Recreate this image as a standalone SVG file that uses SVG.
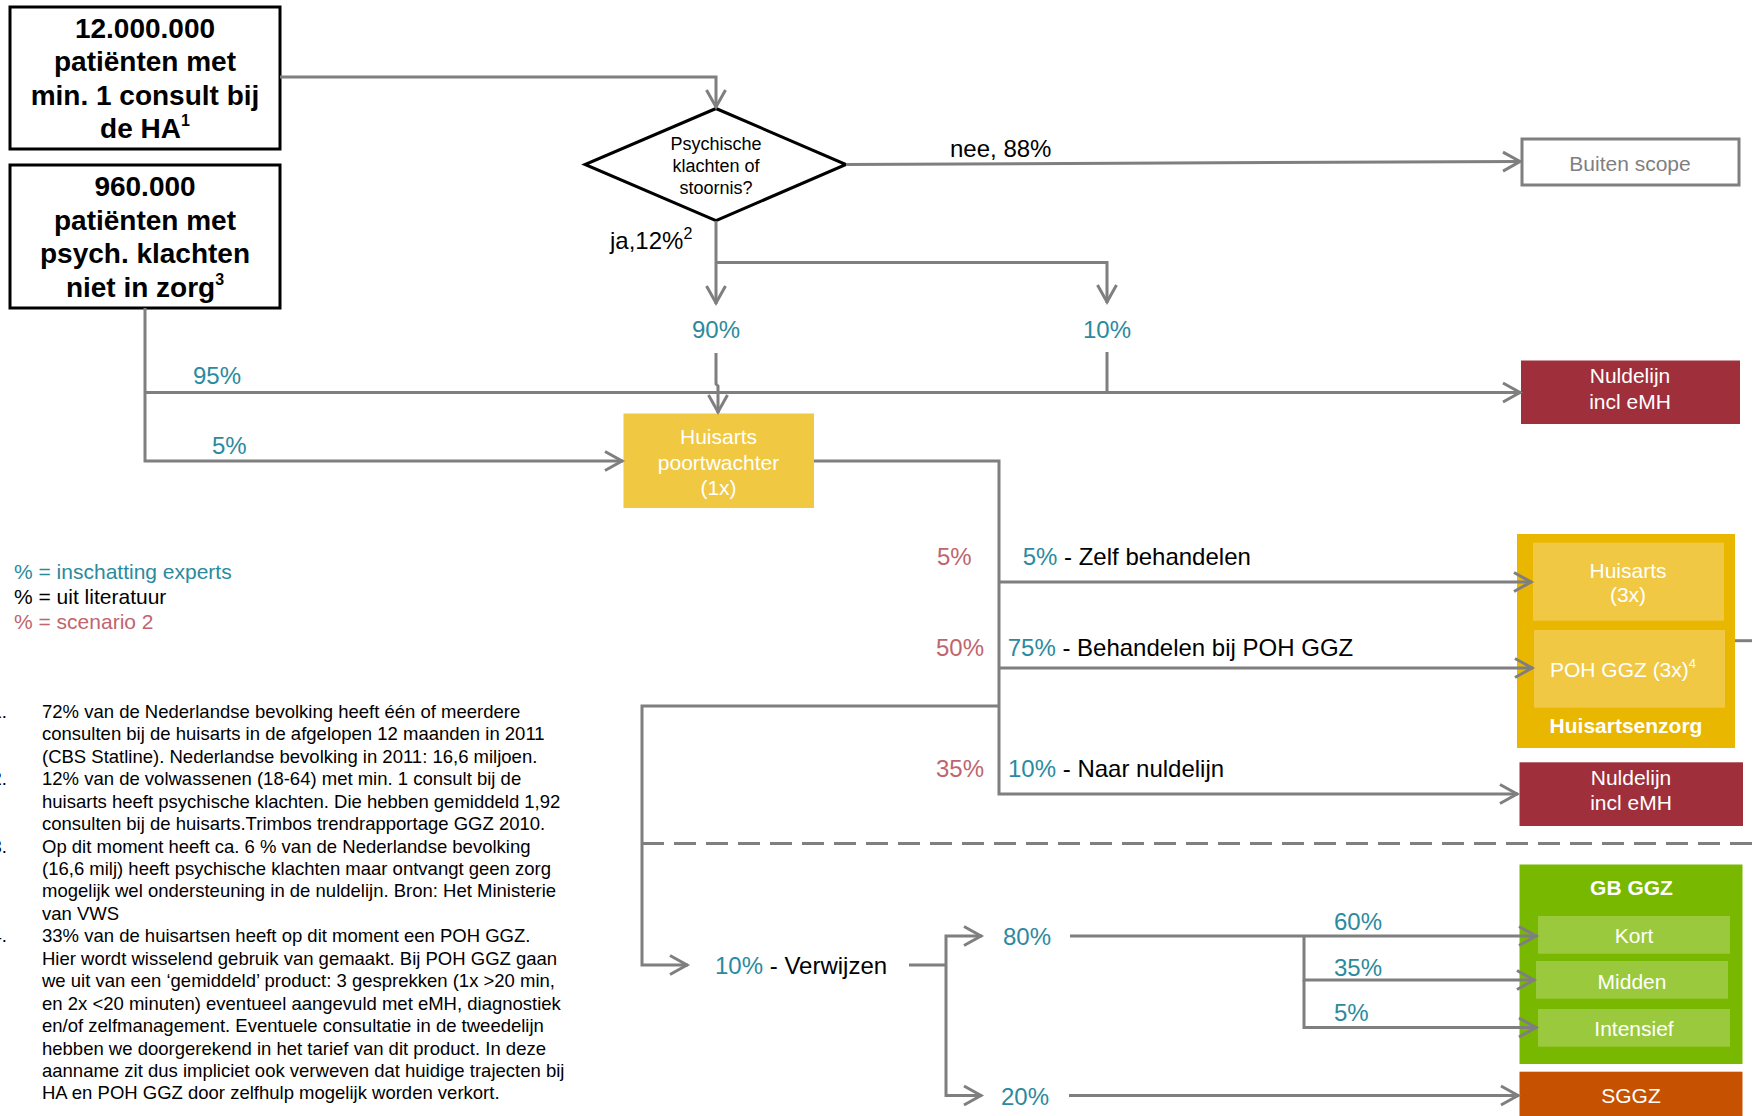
<svg xmlns="http://www.w3.org/2000/svg" width="1752" height="1116" viewBox="0 0 1752 1116">
<defs>
<marker id="arr" markerUnits="userSpaceOnUse" markerWidth="30" markerHeight="30" viewBox="-25 -15 30 30" refX="0" refY="0" orient="auto">
<path d="M-18,-9.5 L-1,0 L-18,9.5" fill="none" stroke="#7f7f7f" stroke-width="3"/>
</marker>
<style>
text{font-family:"Liberation Sans",Arial,sans-serif}
.ln{fill:none;stroke:#7f7f7f;stroke-width:3}
.ar{marker-end:url(#arr)}
.big{font-size:28px;font-weight:bold;fill:#000;text-anchor:middle}
.wt{fill:#fff;font-size:21px;text-anchor:middle}
.wb{fill:#fff;font-size:21px;font-weight:bold;text-anchor:middle}
.pct{font-size:24px}
.tl{fill:#2b8a9e}
.rd{fill:#c0656e}
.bk{fill:#000}
.fn{font-size:18.5px;fill:#000}
</style>
</defs>

<g id="box-patients">
<rect x="10" y="7" width="270" height="142" fill="#fff" stroke="#000" stroke-width="3"/>
<text class="big" x="145" y="38">12.000.000</text>
<text class="big" x="145" y="71">patiënten met</text>
<text class="big" x="145" y="104.5">min. 1 consult bij</text>
<text class="big" x="145" y="138">de HA<tspan font-size="16" dy="-12">1</tspan></text>
</g>

<g id="box-notincare">
<rect x="10" y="165" width="270" height="143" fill="#fff" stroke="#000" stroke-width="3"/>
<text class="big" x="145" y="196">960.000</text>
<text class="big" x="145" y="229.5">patiënten met</text>
<text class="big" x="145" y="263">psych. klachten</text>
<text class="big" x="145" y="296.5">niet in zorg<tspan font-size="16" dy="-12">3</tspan></text>
</g>

<g id="decision">
<polygon points="716,108.5 846,164.5 716,220.6 585,164.5" fill="#fff" stroke="#000" stroke-width="3"/>
<text x="716" y="150" font-size="18" text-anchor="middle">Psychische</text>
<text x="716" y="172" font-size="18" text-anchor="middle">klachten of</text>
<text x="716" y="193.5" font-size="18" text-anchor="middle">stoornis?</text>
</g>

<g id="buiten-scope">
<rect x="1522" y="139" width="217" height="46" fill="#fff" stroke="#7f7f7f" stroke-width="3"/>
<text x="1630" y="171" font-size="21" fill="#7f7f7f" text-anchor="middle">Buiten scope</text>
</g>

<g id="nuldelijn-1">
<rect x="1521" y="360.5" width="219" height="63.5" fill="#9f2f3b"/>
<text class="wt" x="1630" y="383">Nuldelijn</text>
<text class="wt" x="1630" y="409">incl eMH</text>
</g>

<g id="huisarts-poortwachter">
<rect x="623.5" y="413.5" width="190.5" height="94.5" fill="#f0c842"/>
<text class="wt" x="718.5" y="444">Huisarts</text>
<text class="wt" x="718.5" y="469.5">poortwachter</text>
<text class="wt" x="718.5" y="495">(1x)</text>
</g>

<g id="huisartsenzorg">
<rect x="1517" y="534" width="218" height="214" fill="#eab700"/>
<rect x="1533" y="542.7" width="191" height="78" fill="#f0c843"/>
<rect x="1534" y="630" width="191" height="77.7" fill="#f0c843"/>
<text class="wt" x="1628" y="577.5">Huisarts</text>
<text class="wt" x="1628" y="602">(3x)</text>
<text class="wt" x="1623" y="677.3">POH GGZ (3x)<tspan font-size="13" dy="-9">4</tspan></text>
<text class="wb" x="1626" y="732.5">Huisartsenzorg</text>
</g>

<g id="nuldelijn-2">
<rect x="1519.5" y="762.3" width="223.5" height="63.7" fill="#9f2f3b"/>
<text class="wt" x="1631" y="785">Nuldelijn</text>
<text class="wt" x="1631" y="810">incl eMH</text>
</g>

<g id="gb-ggz">
<rect x="1519.5" y="864.5" width="223" height="199.5" fill="#78b800"/>
<text class="wb" x="1631.5" y="895">GB GGZ</text>
<rect x="1538" y="916" width="192" height="37.7" fill="#9bc93d"/>
<text class="wt" x="1634" y="943.3">Kort</text>
<rect x="1536" y="961" width="192" height="37.7" fill="#9bc93d"/>
<text class="wt" x="1632" y="989">Midden</text>
<rect x="1538" y="1009" width="192" height="37.7" fill="#9bc93d"/>
<text class="wt" x="1634" y="1035.7">Intensief</text>
</g>

<g id="sggz">
<rect x="1519.5" y="1071.7" width="223" height="50" fill="#c65100"/>
<text class="wt" x="1631" y="1103.3">SGGZ</text>
</g>

<g id="connectors">
<path class="ln ar" d="M280,77 H716 V108"/>
<path class="ln ar" d="M846,164.5 L1521,161.5"/>
<path class="ln ar" d="M716,221 V304"/>
<path class="ln ar" d="M716,262.5 H1107 V303"/>
<path class="ln ar" d="M716,353 V384 L718,386 V413"/>
<path class="ln" d="M1107,352 V392.5"/>
<path class="ln ar" d="M145,308 V461 H623"/>
<path class="ln ar" d="M145,392.5 H1521"/>
<path class="ln ar" d="M814,461 H999 V794 H1518"/>
<path class="ln ar" d="M999,582 H1532"/>
<path class="ln ar" d="M999,668 H1533"/>
<path class="ln ar" d="M999,706 H642 V965 H688"/>
<path class="ln" d="M909,965 H946"/>
<path class="ln ar" d="M946,965 V936 H982"/>
<path class="ln ar" d="M946,965 V1095.5 H982"/>
<path class="ln ar" d="M1070,936 H1537"/>
<path class="ln ar" d="M1304,936 V980 H1535"/>
<path class="ln ar" d="M1304,980 V1027.5 H1537"/>
<path class="ln ar" d="M1069,1095.5 H1519"/>
<path class="ln" d="M1735,640.7 H1752"/>
<path class="ln" d="M642,843.4 H1752" stroke-dasharray="22,10"/>
</g>

<g id="labels">
<text x="950" y="157" font-size="24">nee, 88%</text>
<text x="610" y="248.5" font-size="24">ja,12%<tspan font-size="16" dy="-10">2</tspan></text>
<text class="pct tl" x="716" y="338" text-anchor="middle">90%</text>
<text class="pct tl" x="1107" y="338" text-anchor="middle">10%</text>
<text class="pct tl" x="193" y="384">95%</text>
<text class="pct tl" x="212" y="454">5%</text>
<text class="pct rd" x="937" y="565">5%</text>
<text class="pct" x="1022.7" y="565"><tspan class="tl">5%</tspan><tspan class="bk"> - Zelf behandelen</tspan></text>
<text class="pct rd" x="936" y="656">50%</text>
<text class="pct" x="1007.7" y="656"><tspan class="tl">75%</tspan><tspan class="bk"> - Behandelen bij POH GGZ</tspan></text>
<text class="pct rd" x="936" y="777">35%</text>
<text class="pct" x="1008" y="777"><tspan class="tl">10%</tspan><tspan class="bk"> - Naar nuldelijn</tspan></text>
<text class="pct" x="715" y="974"><tspan class="tl">10%</tspan><tspan class="bk"> - Verwijzen</tspan></text>
<text class="pct tl" x="1003" y="945">80%</text>
<text class="pct tl" x="1001" y="1105">20%</text>
<text class="pct tl" x="1334" y="930">60%</text>
<text class="pct tl" x="1334" y="976">35%</text>
<text class="pct tl" x="1334" y="1021">5%</text>
</g>

<g id="legend">
<text x="14" y="579" font-size="21" class="tl">% = inschatting experts</text>
<text x="14" y="604" font-size="21" class="bk">% = uit literatuur</text>
<text x="14" y="629" font-size="21" class="rd">% = scenario 2</text>
</g>

<g id="footnotes">
<text class="fn" x="7" y="718" text-anchor="end">1.</text>
<text class="fn" x="7" y="785.3" text-anchor="end">2.</text>
<text class="fn" x="7" y="852.6" text-anchor="end">3.</text>
<text class="fn" x="7" y="942.3" text-anchor="end">4.</text>
<text class="fn" x="42" y="718">72% van de Nederlandse bevolking heeft één of meerdere</text>
<text class="fn" x="42" y="740.4">consulten bij de huisarts in de afgelopen 12 maanden in 2011</text>
<text class="fn" x="42" y="762.9">(CBS Statline). Nederlandse bevolking in 2011: 16,6 miljoen.</text>
<text class="fn" x="42" y="785.3">12% van de volwassenen (18-64) met min. 1 consult bij de</text>
<text class="fn" x="42" y="807.7">huisarts heeft psychische klachten. Die hebben gemiddeld 1,92</text>
<text class="fn" x="42" y="830.2">consulten bij de huisarts.Trimbos trendrapportage GGZ 2010.</text>
<text class="fn" x="42" y="852.6">Op dit moment heeft ca. 6 % van de Nederlandse bevolking</text>
<text class="fn" x="42" y="875">(16,6 milj) heeft psychische klachten maar ontvangt geen zorg</text>
<text class="fn" x="42" y="897.4">mogelijk wel ondersteuning in de nuldelijn. Bron: Het Ministerie</text>
<text class="fn" x="42" y="919.9">van VWS</text>
<text class="fn" x="42" y="942.3">33% van de huisartsen heeft op dit moment een POH GGZ.</text>
<text class="fn" x="42" y="964.7">Hier wordt wisselend gebruik van gemaakt. Bij POH GGZ gaan</text>
<text class="fn" x="42" y="987.2">we uit van een ‘gemiddeld’ product: 3 gesprekken (1x &gt;20 min,</text>
<text class="fn" x="42" y="1009.6">en 2x &lt;20 minuten) eventueel aangevuld met eMH, diagnostiek</text>
<text class="fn" x="42" y="1032">en/of zelfmanagement. Eventuele consultatie in de tweedelijn</text>
<text class="fn" x="42" y="1054.5">hebben we doorgerekend in het tarief van dit product. In deze</text>
<text class="fn" x="42" y="1076.9">aanname zit dus impliciet ook verweven dat huidige trajecten bij</text>
<text class="fn" x="42" y="1099.3">HA en POH GGZ door zelfhulp mogelijk worden verkort.</text>
</g>
</svg>
